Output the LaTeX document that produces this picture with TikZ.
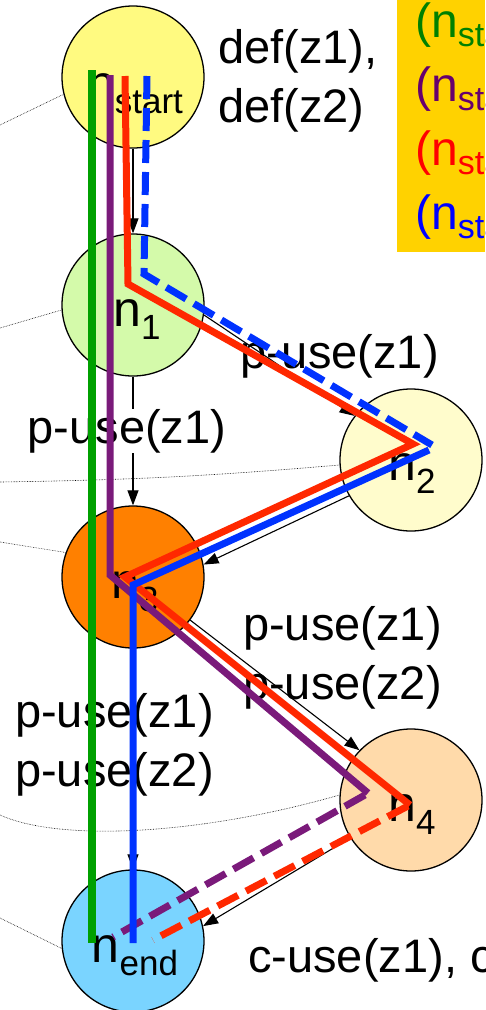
\documentclass[tikz,border=0pt]{standalone}
\usepackage{fontspec}
\setmainfont{Liberation Sans}
\usepackage{xcolor}
\usetikzlibrary{arrows.meta, calc}

\definecolor{startfill}{RGB}{255,250,128}
\definecolor{onefill}{RGB}{212,250,170}
\definecolor{twofill}{RGB}{255,252,204}
\definecolor{threefill}{RGB}{255,128,0}
\definecolor{fourfill}{RGB}{255,218,170}
\definecolor{endfill}{RGB}{122,212,255}
\definecolor{boxgold}{RGB}{255,210,0}
\definecolor{dugreen}{RGB}{0,160,0}
\definecolor{dupurple}{RGB}{122,26,122}
\definecolor{dured}{RGB}{255,40,0}
\definecolor{dublue}{RGB}{0,50,255}
\definecolor{txtgreen}{RGB}{0,128,0}
\definecolor{txtpurple}{RGB}{102,0,110}

\newcommand{\nsub}[1]{\raisebox{-13pt}{\fontsize{35}{35}\selectfont #1}}
\newcommand{\psub}[1]{\raisebox{-9pt}{\fontsize{34}{34}\selectfont #1}}

\begin{document}
\begin{tikzpicture}[x=1pt, y=-1pt,
    every node/.style={inner sep=0pt, font=\fontsize{47}{59}\selectfont},
    state/.style={circle, draw, line width=1.3pt, minimum size=142pt},
    nlabel/.style={anchor=base, font=\fontsize{50}{60}\selectfont},
    plabel/.style={anchor=base west, font=\fontsize{48}{60}\selectfont},
    flow/.style={-{Triangle[length=15pt, width=11pt]}, line width=1.1pt},
    side/.style={densely dotted, line width=.6pt},
    du/.style={line width=7pt},
    gap/.style={dash pattern=on 23pt off 9pt}]
    \useasboundingbox (0,0) rectangle (485,1010);

    % du-paths listed in the box
    \fill[boxgold] (397,0) rectangle (485,252);
    \node[plabel, text=txtgreen] (pgreen) at (415,37)
        {(n\psub{start}, n\psub{1}, n\psub{3}, n\psub{end})};
    \node[plabel, text=txtpurple] (ppurple) at (415,101)
        {(n\psub{start}, n\psub{1}, n\psub{3}, n\psub{4}, n\psub{end})};
    \node[plabel, text=red] (pred) at (415,165)
        {(n\psub{start}, n\psub{1}, n\psub{2}, n\psub{3}, n\psub{4}, n\psub{end})};
    \node[plabel, text=blue] (pblue) at (415,229)
        {(n\psub{start}, n\psub{1}, n\psub{2}, n\psub{3}, n\psub{end})};

    % control flow graph
    \node[state, fill=startfill] (nstart) at (133,77) {};
    \node[state, fill=onefill] (n1) at (133,305) {};
    \node[state, fill=twofill] (n2) at (411,460) {};
    \node[state, fill=threefill] (n3) at (133,577) {};
    \node[state, fill=fourfill] (n4) at (411,800) {};
    \node[state, fill=endfill] (nend) at (133,941) {};

    \node[nlabel] (tstart) at ($(nstart)+(2,23)$) {n\nsub{start}};
    \node[nlabel] (t1) at ($(n1)+(4,21)$) {n\nsub{1}};
    \node[nlabel] (t2) at ($(n2)+(1,20)$) {n\nsub{2}};
    \node[nlabel] (t3) at ($(n3)+(2,21)$) {n\nsub{3}};
    \node[nlabel] (t4) at ($(n4)+(1,21)$) {n\nsub{4}};
    \node[nlabel] (tend) at ($(nend)+(2,21)$) {n\nsub{end}};

    \coordinate (s1) at (0,125);
    \coordinate (s2) at (0,328);
    \coordinate (s3) at (0,482);
    \coordinate (s4) at (0,542);
    \coordinate (s5) at (0,815);
    \coordinate (s6) at (0,918);
    \draw[side] (s1) -- (nstart.194);
    \draw[side] (s2) -- (n1.184);
    \draw[side] (s3) to[bend right=2] (n2.184);
    \draw[side] (s4) -- (n3.160);
    \draw[side] (s5) .. controls (60,842) and (200,835) .. (n4.176);
    \draw[side] (s6) -- (nend.186);

    \draw[flow] (nstart) -- (n1);
    \draw[flow] (n1.-8) -- (n2.142);
    \draw[flow] (n1) -- (n3);
    \draw[flow] (n2.210) -- (n3.10);
    \draw[flow] (n3.-37) -- (n4.136);
    \draw[flow] (n3) -- (nend);
    \draw[flow] (n4.212) -- (nend.12);

    \node[anchor=north west, align=left] (defs) at (218,29) {def(z1),\\def(z2)};
    \node[anchor=base west] (use12) at (240,368) {p-use(z1)};
    \node[anchor=base, fill=white] (use13) at (127,443) {p-use(z1)};
    \node[anchor=north west, align=left] (use34) at (243,606) {p-use(z1)\\p-use(z2)};
    \node[anchor=north west, align=left] (use3e) at (15,693) {p-use(z1)\\p-use(z2)};
    \node[anchor=base west] (cuse) at (248,972) {c-use(z1), c-use(z2)};

    % the four du-paths
    \draw[du, dugreen, line width=8pt] ($(nstart)+(-41,-7)$) -- ($(nend)+(-41,2)$);
    \draw[du, dupurple] ($(nstart)+(-23,-2)$) -- ($(n3)+(-23,-2)$) -- ($(n4)+(-43,-7)$);
    \draw[du, dupurple, gap] ($(n4)+(-46,-5)$) -- ($(nend)+(-20,-4)$);
    \draw[du, dured] ($(nstart)+(-8,-1)$) -- ($(n1)+(-5,-21)$) -- ($(n2)+(2,-16)$)
        -- ($(n3)+(-8,0)$) -- ($(n4)+(-1,5)$);
    \draw[du, dured, gap] ($(n4)+(-3,6)$) -- ($(nend)+(20,-1)$);
    \draw[du, dublue, gap] ($(nstart)+(14,-1)$) -- ($(n1)+(11,-31)$) -- ($(n2)+(21,-15)$);
    \draw[du, dublue] ($(n2)+(18,-10)$) -- ($(n3)+(0,8)$) -- ($(nend)+(0,2)$);
\end{tikzpicture}
\end{document}
